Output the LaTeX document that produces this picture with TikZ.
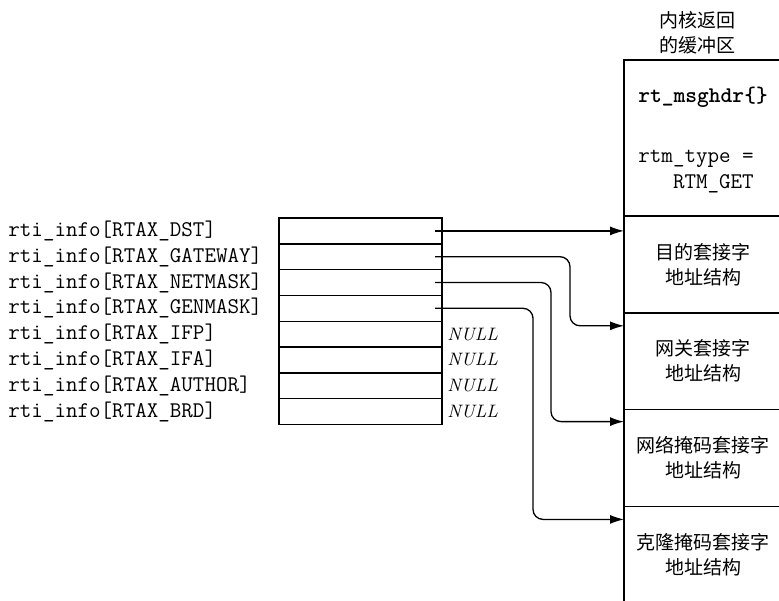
\documentclass[tikz,border=0pt]{standalone}
\usepackage{fontspec}
\newfontfamily\cjk{Noto Sans CJK SC}
\usetikzlibrary{positioning,arrows.meta,calc}
\tikzset{
  slot/.style={rectangle, draw, line width=0.7pt, outer sep=0pt, inner sep=0pt, minimum width=81.5pt, minimum height=12.9pt},
  field/.style={anchor=west, inner sep=0pt, font=\fontsize{11.2}{13}\selectfont\ttfamily},
  nullval/.style={inner sep=0pt, font=\fontsize{9}{11}\selectfont\itshape},
  hdrbox/.style={rectangle, draw, line width=0.7pt, outer sep=0pt, inner sep=0pt, minimum width=79pt, minimum height=78pt},
  bufpart/.style={rectangle, draw, line width=0.7pt, outer sep=0pt, inner sep=0pt, minimum width=79pt, minimum height=48.4pt, align=center, font=\fontsize{9.5}{12.5}\selectfont\cjk},
  ptr/.style={-{Latex[length=7pt,width=4.5pt]}, line width=0.65pt, rounded corners=5pt}
}
\begin{document}
\begin{tikzpicture}[x=0.5pt, y=-0.5pt]
\useasboundingbox (0,0) rectangle (779,600);
\clip (0,0) rectangle (779,600);
% pointer array
\node[slot, anchor=north west] (r1) at (279,218) {};
\node[slot, below=0pt of r1] (r2) {};
\node[slot, below=0pt of r2] (r3) {};
\node[slot, below=0pt of r3] (r4) {};
\node[slot, below=0pt of r4] (r5) {};
\node[slot, below=0pt of r5] (r6) {};
\node[slot, below=0pt of r6] (r7) {};
\node[slot, below=0pt of r7] (r8) {};
% element names
\coordinate (lblx) at (8,0);
\node[field] (l1) at (lblx |- r1) {rti\_info[RTAX\_DST]};
\node[field] (l2) at (lblx |- r2) {rti\_info[RTAX\_GATEWAY]};
\node[field] (l3) at (lblx |- r3) {rti\_info[RTAX\_NETMASK]};
\node[field] (l4) at (lblx |- r4) {rti\_info[RTAX\_GENMASK]};
\node[field] (l5) at (lblx |- r5) {rti\_info[RTAX\_IFP]};
\node[field] (l6) at (lblx |- r6) {rti\_info[RTAX\_IFA]};
\node[field] (l7) at (lblx |- r7) {rti\_info[RTAX\_AUTHOR]};
\node[field] (l8) at (lblx |- r8) {rti\_info[RTAX\_BRD]};
\node[nullval, right=2.5pt of r5] (n5) {NULL};
\node[nullval, right=2.5pt of r6] (n6) {NULL};
\node[nullval, right=2.5pt of r7] (n7) {NULL};
\node[nullval, right=2.5pt of r8] (n8) {NULL};
% kernel buffer
\node[hdrbox, anchor=north west] (hdr) at (624,60) {};
\node[bufpart, below=0pt of hdr] (dst) {目的套接字\\地址结构};
\node[bufpart, below=0pt of dst] (gate) {网关套接字\\地址结构};
\node[bufpart, below=0pt of gate] (mask) {网络掩码套接字\\地址结构};
\node[bufpart, below=0pt of mask] (gen) {克隆掩码套接字\\地址结构};
\node[align=center, inner sep=0pt, font=\fontsize{9.5}{12.5}\selectfont\cjk, above=3pt of hdr, xshift=-3pt] (ttl) {内核返回\\的缓冲区};
\node[field, font=\fontsize{11.2}{13}\selectfont\ttfamily\bfseries] (hname) at ($(hdr.north west)+(14,37)$) {rt\_msghdr\{\}};
\node[field, align=left] (htype) at ($(hdr.north west)+(14,112)$) {rtm\_type =\\\phantom{rtm}RTM\_GET};
% pointers
\coordinate (p1) at ($(r1.east)+(-7,0)$);
\coordinate (p2) at ($(r2.east)+(-7,0)$);
\coordinate (p3) at ($(r3.east)+(-7,0)$);
\coordinate (p4) at ($(r4.east)+(-7,0)$);
\coordinate (t2) at ($(gate.north west)+(0,13)$);
\coordinate (t3) at ($(mask.north west)+(0,12)$);
\coordinate (t4) at ($(gen.north west)+(0,13)$);
\draw[ptr] (p1) -- (p1 -| dst.west);
\draw[ptr] (p2) -| ($(t2)+(-54,0)$) -- (t2);
\draw[ptr] (p3) -| ($(t3)+(-73,0)$) -- (t3);
\draw[ptr] (p4) -| ($(t4)+(-91,0)$) -- (t4);
\end{tikzpicture}
\end{document}
